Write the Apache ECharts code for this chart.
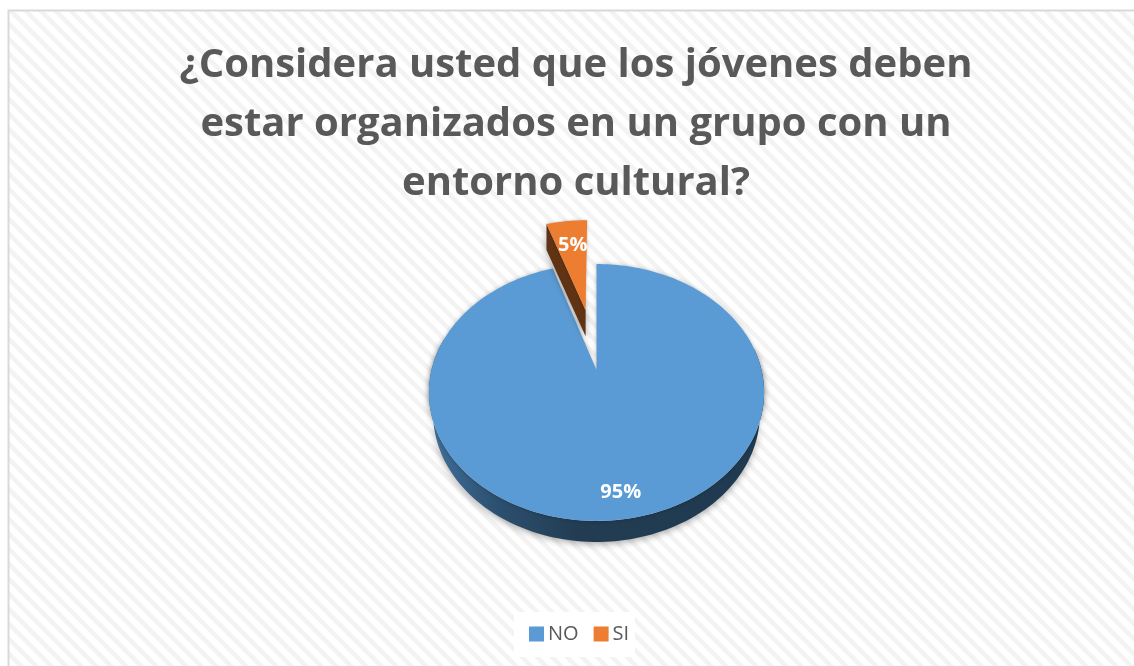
<!DOCTYPE html>
<html><head><meta charset="utf-8">
<style>html,body{margin:0;padding:0;background:#fff}#c{width:1134px;height:666px}</style>
<script src="https://cdn.jsdelivr.net/npm/echarts@6/dist/echarts.min.js"></script>
</head><body><div id="c"></div>
<script>
const titleLines = ['¿Considera usted que los jóvenes deben','estar organizados en un grupo con un','entorno cultural?'];
const categories = ['NO','SI'];
const values = [95,5];
const colors = ['#5b9bd5','#ed7d31'];

const total = values.reduce((a,b)=>a+b,0);
const APEX = {x:596.5,y:370}, A=124.5, B=165, K=0.175;
function proj(u,v){const d=1+K*v;return [APEX.x+B*u/d, APEX.y-A*v/d];}
function rim(a,e,du,dv){return proj(du+Math.sin(a)*e, dv+Math.cos(a)*e);}

// diagonal hatch background
const cv=document.createElement('canvas');cv.width=15;cv.height=15;
const g=cv.getContext('2d');g.fillStyle='#ffffff';g.fillRect(0,0,15,15);
g.strokeStyle='#f3f3f3';g.lineWidth=4.5;
[-15,0,15].forEach(c=>{g.beginPath();g.moveTo(-5,-5+c);g.lineTo(20,20+c);g.stroke();});

function sliceItem(idx,explode,depth,labelR,labelDx,faceColor,wallColor){
  return function(params,api){
    const val=api.value(0);
    let before=0;for(let i=0;i<idx;i++)before+=values[i];
    const a0=before/total*2*Math.PI, a1=(before+val)/total*2*Math.PI, mid=(a0+a1)/2;
    const du=Math.sin(mid)*explode*0.87, dv=Math.cos(mid)*explode;
    const pts=[proj(du,dv)];
    const N=Math.max(6,Math.round((a1-a0)*40));
    for(let i=0;i<=N;i++)pts.push(rim(a0+(a1-a0)*i/N,1,du,dv));
    const kids=[];
    const wallShadow={shadowBlur:7,shadowColor:'rgba(0,0,0,0.35)',shadowOffsetY:2};
    if(idx===0){
      const from=Math.max(a0,80*Math.PI/180), to=Math.min(a1,285*Math.PI/180);
      const M=120, up=[],dn=[];
      for(let i=0;i<=M;i++){const p=rim(from+(to-from)*i/M,1,du,dv);up.push(p);dn.push([APEX.x+(p[0]-APEX.x)*0.975,p[1]+depth]);}
      kids.push({type:'polygon',shape:{points:up.concat(dn.reverse())},style:Object.assign({fill:{type:'linear',x:1,y:0,x2:0,y2:0,colorStops:wallColor}},wallShadow)});
    }else{
      const ap=pts[0], lc=pts[1];
      kids.push({type:'polygon',shape:{points:[ap,lc,[lc[0],lc[1]+depth],[ap[0],ap[1]+depth]]},style:Object.assign({fill:wallColor},wallShadow)});
    }
    kids.push({type:'polygon',shape:{points:pts},style:{fill:faceColor,shadowBlur:idx===0?4:3,shadowColor:'rgba(0,0,0,0.25)'}});
    const lp=proj(du+Math.sin(mid)*labelR,dv+Math.cos(mid)*labelR);
    kids.push({type:'text',style:{text:Math.round(val/total*100)+'%',x:lp[0]+labelDx,y:lp[1],align:'center',verticalAlign:'middle',fill:'#ffffff',font:'bold 20px "Open Sans"'}});
    return {type:'group',children:kids};
  };
}
const wallStops=[{offset:0,color:'#1f3a50'},{offset:0.55,color:'#223c52'},{offset:0.8,color:'#2c5070'},{offset:1,color:'#40719d'}];

const chart=echarts.init(document.getElementById('c'),null,{renderer:'canvas'});
chart.setOption({
  animation:false,
  backgroundColor:'#ffffff',
  title:{text:titleLines.join('\n'),left:571,top:31,textAlign:'center',
    textStyle:{fontFamily:'Open Sans',fontWeight:'bold',fontSize:40,lineHeight:59,color:'#595959'}},
  legend:{data:categories.map((n,i)=>({name:n,itemStyle:{color:colors[i]}})),left:529,top:624,itemWidth:15,itemHeight:15,itemGap:15,icon:'rect',
    textStyle:{fontFamily:'Open Sans',fontSize:20,color:'#595959',padding:[0,0,0,-1]},backgroundColor:'transparent',padding:0},
  graphic:[
    {type:'rect',z:-10,silent:true,shape:{x:8.5,y:10.5,width:1140,height:670},style:{fill:{image:cv,repeat:'repeat'},stroke:'#d9d9d9',lineWidth:2}},
    {type:'rect',z:-9,silent:true,shape:{x:514,y:612,width:121,height:45},style:{fill:'#ffffff'}}
  ],
  series:[
    {name:'NO',type:'custom',coordinateSystem:'none',itemStyle:{color:colors[0]},data:[[values[0]]],renderItem:sliceItem(0,0,21,0.85,-1.5,colors[0],wallStops),z:2},
    {name:'SI',type:'custom',coordinateSystem:'none',itemStyle:{color:colors[1]},data:[[values[1]]],renderItem:sliceItem(1,0.53,26,0.7,1,colors[1],'#5f3313'),z:3}
  ]
});
</script></body></html>
